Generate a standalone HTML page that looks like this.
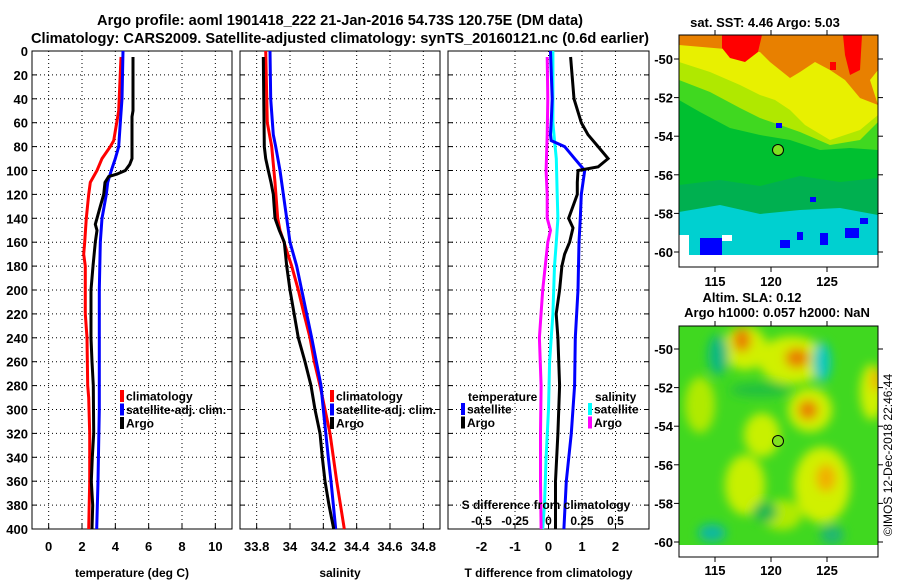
<!DOCTYPE html>
<html><head><meta charset="utf-8"><style>
html,body{margin:0;padding:0;background:#fff;}
svg{display:block;font-family:"Liberation Sans",Arial,sans-serif;font-weight:bold;}
</style></head><body>
<svg id="c" width="900" height="580" viewBox="0 0 900 580" xmlns="http://www.w3.org/2000/svg">
<defs>
<filter id="blur" filterUnits="userSpaceOnUse" x="660" y="300" width="240" height="270"><feGaussianBlur stdDeviation="5"/></filter>
<clipPath id="clipTop"><rect x="679" y="35" width="199" height="220"/></clipPath>
<clipPath id="clipBot"><rect x="679" y="326" width="199" height="219"/></clipPath>
</defs>
<text x="340" y="25" font-size="14.6" text-anchor="middle">Argo profile: aoml 1901418_222 21-Jan-2016 54.73S 120.75E (DM data)</text>
<text x="340" y="43" font-size="14.6" text-anchor="middle">Climatology: CARS2009. Satellite-adjusted climatology: synTS_20160121.nc (0.6d earlier)</text>
<g id="panels"></g>

<!-- SST map -->
<g>
<g clip-path="url(#clipTop)">
<rect x="679" y="35" width="199" height="220" fill="#00d0d0"/>
<path d="M679,35H878V215L840,208L800,210L760,214L720,205L679,212Z" fill="#00b050"/>
<path d="M679,35H878V178L840,182L800,176L760,186L720,180L679,185Z" fill="#00c030"/>
<path d="M679,35H878V150L850,148L820,150L790,140L760,135L730,128L700,112L679,100Z" fill="#40d820"/>
<path d="M679,35H878V122L860,140L830,145L800,132L780,125L760,118L740,108L710,92L679,80Z" fill="#b0e800"/>
<path d="M679,35H878V115L860,130L830,140L805,125L790,110L775,100L760,95L740,85L710,72L679,62Z" fill="#e8f000"/>
<path d="M679,35H878V70L870,80L878,105L860,98L845,80L830,70L815,62L800,72L790,78L770,62L760,52L679,45Z" fill="#e88000"/>
<path d="M722,35H762L758,52L745,62L730,58L722,48Z" fill="#ff0000"/>
<path d="M843,35H862L860,70L850,75L845,55Z" fill="#ff0000"/>
<rect x="830" y="62" width="6" height="8" fill="#ff0000"/>
<path d="M700,238H722V255H700Z" fill="#0000ff"/>
<rect x="780" y="240" width="10" height="8" fill="#0000ff"/>
<rect x="845" y="228" width="14" height="10" fill="#0000ff"/>
<rect x="820" y="233" width="8" height="12" fill="#0000ff"/>
<rect x="860" y="218" width="8" height="6" fill="#0000ff"/>
<rect x="797" y="232" width="6" height="8" fill="#0000ff"/>
<rect x="810" y="197" width="6" height="5" fill="#0000ff"/>
<rect x="776" y="123" width="6" height="5" fill="#0000ff"/>
<rect x="679" y="235" width="10" height="20" fill="#ffffff"/>
<rect x="722" y="235" width="10" height="6" fill="#ffffff"/>
</g>
<rect x="679" y="35" width="199" height="232" fill="none" stroke="#000" stroke-width="1"/>
<circle cx="778" cy="150" r="5.5" fill="#80e020" stroke="#000" stroke-width="1"/>
<text x="765" y="27" font-size="13" text-anchor="middle">sat. SST: 4.46 Argo: 5.03</text>
</g>

<!-- SLA map -->
<g>
<g clip-path="url(#clipBot)">
<rect x="679" y="326" width="199" height="219" fill="#40d820"/>
<g filter="url(#blur)">
<ellipse cx="745" cy="348" rx="22" ry="22" fill="#d0f000"/>
<ellipse cx="792" cy="360" rx="34" ry="24" fill="#d0f000"/>
<ellipse cx="810" cy="410" rx="22" ry="22" fill="#d0f000"/>
<ellipse cx="872" cy="392" rx="12" ry="28" fill="#d0f000"/>
<ellipse cx="822" cy="485" rx="28" ry="38" fill="#d0f000"/>
<ellipse cx="745" cy="485" rx="20" ry="30" fill="#c8f000"/>
<ellipse cx="700" cy="405" rx="15" ry="28" fill="#b0ea00"/>
<ellipse cx="762" cy="435" rx="18" ry="22" fill="#c8f000"/>
<ellipse cx="782" cy="515" rx="20" ry="15" fill="#b0ea00"/>
<ellipse cx="742" cy="340" rx="9" ry="12" fill="#e88000"/>
<ellipse cx="797" cy="358" rx="12" ry="10" fill="#e88000"/>
<ellipse cx="808" cy="410" rx="10" ry="10" fill="#e88000"/>
<ellipse cx="826" cy="478" rx="10" ry="14" fill="#f0b000"/>
<ellipse cx="876" cy="380" rx="5" ry="12" fill="#f0b000"/>
<ellipse cx="718" cy="355" rx="10" ry="20" fill="#10b880"/>
<ellipse cx="822" cy="362" rx="9" ry="20" fill="#10c8c0"/>
<ellipse cx="712" cy="533" rx="14" ry="9" fill="#10b8a0"/>
<ellipse cx="832" cy="535" rx="12" ry="10" fill="#20b870"/>
<ellipse cx="765" cy="512" rx="12" ry="10" fill="#20b850"/>
<ellipse cx="760" cy="390" rx="30" ry="7" fill="#20c040"/>
</g>
</g>
<rect x="679" y="326" width="199" height="231" fill="none" stroke="#000" stroke-width="1"/>
<circle cx="778" cy="441" r="5.5" fill="#80e020" stroke="#000" stroke-width="1"/>
<text x="752" y="302" font-size="13" text-anchor="middle">Altim. SLA: 0.12</text>
<text x="777" y="317" font-size="13" text-anchor="middle">Argo h1000: 0.057 h2000: NaN</text>
</g>
<text transform="translate(892,455) rotate(-90)" font-size="12" font-weight="normal" text-anchor="middle">©IMOS 12-Dec-2018 22:46:44</text>
<g id="maplabels"></g>
</svg>
<script>
// ---- data ----
const depthsTClim = [5,50,75,80,90,100,110,120,140,160,170,180,220,240,280,290,320,360,400];
const tempClim    = [4.34,4.2,3.9,3.7,3.2,2.9,2.5,2.4,2.26,2.16,2.1,2.2,2.2,2.3,2.34,2.4,2.46,2.46,2.4];
const depthsTSat  = [0,40,60,80,90,100,110,120,140,160,200,300,360,400];
const tempSat     = [4.46,4.4,4.3,4.2,4.0,3.76,3.54,3.46,3.2,3.1,3.04,3.04,2.96,2.88];
const depthsTArgo = [5,50,55,90,95,100,103,105,110,120,130,140,145,150,160,180,200,240,260,280,320,340,360,380,400];
const tempArgo    = [5.06,5.06,5.0,5.0,4.86,4.6,4.1,3.6,3.38,3.3,3.1,2.9,2.8,2.9,2.8,2.66,2.54,2.54,2.6,2.68,2.7,2.62,2.56,2.64,2.6];

const depthsSClim = [0,60,80,110,140,150,160,180,200,220,240,260,280,300,320,360,400];
const salClim     = [33.854,33.864,33.89,33.91,33.926,33.94,33.964,34.01,34.05,34.084,34.12,34.146,34.18,34.21,34.24,34.28,34.326];
const depthsSSat  = [0,40,70,80,100,140,160,180,200,220,240,280,300,340,360,400];
const salSat      = [33.88,33.884,33.9,33.914,33.94,33.98,34.0,34.04,34.07,34.1,34.13,34.186,34.2,34.23,34.246,34.274];
const depthsSArgo = [5,80,90,100,110,120,140,150,160,180,200,240,260,280,300,320,340,360,380,400];
const salArgo     = [33.84,33.846,33.854,33.87,33.886,33.9,33.91,33.936,33.966,33.98,34.0,34.05,34.09,34.126,34.15,34.18,34.194,34.21,34.234,34.262];

const depthsDT1 = [0,40,60,70,75,80,90,100,110,120,140,160,200,240,280,320,360,400];
const dTSat     = [0.06,0.11,0.08,0.06,0.08,0.48,0.78,1.08,1.03,0.98,0.95,0.91,0.88,0.8,0.78,0.68,0.53,0.46];
const depthsDT2 = [5,40,60,70,80,90,97,100,110,120,130,140,148,160,170,180,200,220,240,280,320,360,400];
const dTArgo    = [0.66,0.76,0.98,1.18,1.48,1.78,1.48,0.88,0.86,0.86,0.73,0.6,0.73,0.63,0.48,0.4,0.33,0.23,0.28,0.33,0.28,0.21,0.21];
const depthsDS1 = [0,40,60,75,90,120,140,160,180,220,260,300,340,380,400];
const dSSat     = [0.033,0.033,0.033,0.045,0.058,0.065,0.07,0.058,0.045,0.033,0.008,0,-0.018,-0.03,-0.043];
const depthsDS2 = [5,40,70,100,120,140,150,160,200,240,280,320,360,400];
const dSArgo    = [-0.01,-0.005,-0.01,-0.018,-0.01,-0.01,0.015,-0.005,-0.043,-0.068,-0.055,-0.06,-0.06,-0.055];

const depthTicks = [0,20,40,60,80,100,120,140,160,180,200,220,240,260,280,300,320,340,360,380,400];
const tempTicks = [0,2,4,6,8,10];
const salTicks = [33.8,34,34.2,34.4,34.6,34.8];
const salTickLabels = ["33.8","34","34.2","34.4","34.6","34.8"];
const dTTicks = [-2,-1,0,1,2];
const dSTickLabels = ["-0.5","-0.25","0","0.25","0.5"];
const dSTickVals = [-0.5,-0.25,0,0.25,0.5];
const latTicks = [-50,-52,-54,-56,-58,-60];
const lonTicks = [115,120,125];

const NS="http://www.w3.org/2000/svg";
const root=document.getElementById('panels');
const TOP=51, BOT=529;
const yD = d => TOP + d*(BOT-TOP)/400;
function mk(tag, attrs, parent){const e=document.createElementNS(NS,tag);for(const k in attrs)e.setAttribute(k,attrs[k]);(parent||root).appendChild(e);return e;}
function txt(x,y,s,size,anchor,parent){const t=mk('text',{x:x,y:y,'font-size':size,'text-anchor':anchor||'middle'},parent);t.textContent=s;return t;}

function panel(name,L,R,xmin,xmax,opts){
  const g=mk('g',{});
  
  
  const xs = v => L + (v-xmin)*(R-L)/(xmax-xmin);
  depthTicks.forEach(d=>{ if(d>0&&d<400) mk('line',{x1:L,x2:R,y1:yD(d),y2:yD(d),stroke:'#000','stroke-width':1,'stroke-dasharray':'1,3'},g);
    mk('line',{x1:L,x2:L+5,y1:yD(d),y2:yD(d),stroke:'#000'},g);
    mk('line',{x1:R-5,x2:R,y1:yD(d),y2:yD(d),stroke:'#000'},g);
    if(opts.ylabels){const t=txt(L-4,yD(d)+5,String(d),13,'end',g);}
  });
  opts.xgrid.forEach((v,i)=>{ const x=xs(v);
    mk('line',{x1:x,x2:x,y1:TOP,y2:BOT,stroke:'#000','stroke-width':1,'stroke-dasharray':'1,3'},g);
    mk('line',{x1:x,x2:x,y1:BOT-5,y2:BOT,stroke:'#000'},g);
    const t=txt(x,BOT+22,opts.xlabels[i],13,'middle',g);
    
    
  });
  mk('rect',{x:L,y:TOP,width:R-L,height:BOT-TOP,fill:'none',stroke:'#000','stroke-width':1},g);
  const tt=txt((L+R)/2,BOT+48,opts.title,12,'middle',g);
  
  
  return {g,xs};
}
function line(p,depths,vals,color,name,scale){
  const pts=depths.map((d,i)=>p.xs(vals[i]*(scale||1)).toFixed(1)+','+yD(d).toFixed(1)).join(' ');
  const pl=mk('polyline',{points:pts,fill:'none',stroke:color,'stroke-width':3,'stroke-linejoin':'miter'},p.g);
  
  
}
function legend(p,x,y,items){
  items.forEach((it,i)=>{
    mk('rect',{x:x,y:y+i*13.5-6,width:4,height:12,fill:it[0]},p.g);
    const t=txt(x+6,y+i*13.5+4.5,it[1],12,'start',p.g);
    
    
  });
}

const p1=panel('temperature-panel',32,232,-1,11,{ylabels:true,xgrid:tempTicks,xlabels:tempTicks.map(String),title:'temperature (deg C)'});
line(p1,depthsTClim,tempClim,'#ff0000','temp-climatology-line');
line(p1,depthsTSat,tempSat,'#0000ff','temp-satellite-line');
line(p1,depthsTArgo,tempArgo,'#000000','temp-argo-line');
legend(p1,120,396,[['#ff0000','climatology'],['#0000ff','satellite-adj. clim.'],['#000','Argo']]);

const p2=panel('salinity-panel',240,440,33.7,34.9,{ylabels:false,xgrid:salTicks,xlabels:salTickLabels,title:'salinity'});
line(p2,depthsSClim,salClim,'#ff0000','sal-climatology-line');
line(p2,depthsSSat,salSat,'#0000ff','sal-satellite-line');
line(p2,depthsSArgo,salArgo,'#000000','sal-argo-line');
legend(p2,330,396,[['#ff0000','climatology'],['#0000ff','satellite-adj. clim.'],['#000','Argo']]);

const p3=panel('difference-panel',448,649,-3,3,{ylabels:false,xgrid:dTTicks,xlabels:dTTicks.map(String),title:'T difference from climatology'});
line(p3,depthsDS1,dSSat,'#00ffff','sal-diff-satellite-line',4);
line(p3,depthsDS2,dSArgo,'#ff00ff','sal-diff-argo-line',4);
line(p3,depthsDT1,dTSat,'#0000ff','temp-diff-satellite-line');
line(p3,depthsDT2,dTArgo,'#000000','temp-diff-argo-line');
{const t=txt(468,401,'temperature',12,'start',p3.g);}
{const t=txt(595,401,'salinity',12,'start',p3.g);}
legend(p3,461,409,[['#0000ff','satellite'],['#000','Argo']]);
legend(p3,588,409,[['#00ffff','satellite'],['#ff00ff','Argo']]);
{const t=txt(546,509,'S difference from climatology',12,'middle',p3.g);}
dSTickVals.forEach((v,i)=>{const t=txt(p3.xs(v*4),525,dSTickLabels[i],12,'middle',p3.g);});

const ml=document.getElementById('maplabels');
function mapAxes(top,y50,y60,xl,ylab,bottom){
  latTicks.forEach(lat=>{const y=y50+(lat+50)/-10*(y60-y50);
    const t=txt(673,y+5,String(lat),13,'end',ml);
    mk('line',{x1:674,x2:679,y1:y,y2:y,stroke:'#000'},ml);mk('line',{x1:878,x2:883,y1:y,y2:y,stroke:'#000'},ml);});
  lonTicks.forEach(lon=>{const x=715+(lon-115)*11.2;
    const t=txt(x,ylab,String(lon),13,'middle',ml);
    mk('line',{x1:x,x2:x,y1:bottom,y2:bottom+5,stroke:'#000'},ml);mk('line',{x1:x,x2:x,y1:top-5,y2:top,stroke:'#000'},ml);});
}
mapAxes(35,59,252,0,286,267);
mapAxes(326,349,542,0,575,557);
</script>
</body></html>
